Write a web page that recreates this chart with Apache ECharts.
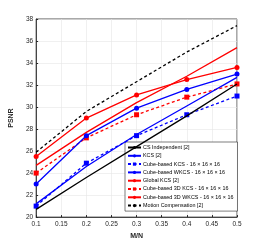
<!DOCTYPE html>
<html><head><meta charset="utf-8">
<script src="https://cdn.jsdelivr.net/npm/echarts@6/dist/echarts.min.js"></script>
<style>html,body{margin:0;padding:0;background:#fff}#c{width:262px;height:245px}</style>
</head><body><div id="c"></div>
<script>
const xs = [0.1, 0.2, 0.3, 0.4, 0.5];
const csIndependent = [20.7, 23.6, 26.4, 29.2, 32.1];
const kcs = [21.2, 24.6, 27.5, 30.1, 32.7];
const cubeKcs = [21.0, 24.9, 27.4, 29.3, 31.0];
const cubeWkcs = [23.0, 27.4, 29.9, 31.6, 33.0];
const globalKcs = [24.7, 27.7, 30.4, 32.8, 35.4];
const cube3dKcs = [24.0, 27.2, 29.3, 30.9, 32.1];
const cube3dWkcs = [25.5, 29.0, 31.1, 32.5, 33.6];
const motionComp = [25.9, 29.6, 32.3, 35.0, 37.4];
const seriesNames = [
  'CS Independent [2]', 'KCS [2]', 'Cube-based KCS - 16 \u00d7 16 \u00d7 16',
  'Cube-based WKCS - 16 \u00d7 16 \u00d7 16', 'Global KCS [2]',
  'Cube-based 3D KCS - 16 \u00d7 16 \u00d7 16', 'Cube-based 3D WKCS - 16 \u00d7 16 \u00d7 16',
  'Motion Compensation [2]'
];
const seriesData = [csIndependent, kcs, cubeKcs, cubeWkcs, globalKcs, cube3dKcs, cube3dWkcs, motionComp];
const styles = [
  {c:'#000000', t:'solid', m:'none'},
  {c:'#0000ff', t:'solid', m:'none'},
  {c:'#0000ff', t:'dashed', m:'rect'},
  {c:'#0000ff', t:'solid', m:'circle'},
  {c:'#ff0000', t:'solid', m:'none'},
  {c:'#ff0000', t:'dashed', m:'rect'},
  {c:'#ff0000', t:'solid', m:'circle'},
  {c:'#000000', t:'dashed', m:'none'}
];
const chart = echarts.init(document.getElementById('c'), null, {renderer:'canvas'});
const series = seriesNames.map((n,i)=>({
  name:n, type:'line',
  data: xs.map((x,j)=>[x, seriesData[i][j]]),
  symbol: styles[i].m, symbolSize: 5, showSymbol: styles[i].m !== 'none',
  lineStyle:{color:styles[i].c, width:1.3, type: styles[i].t==='dashed' ? [3,2.5] : 'solid'},
  itemStyle:{color:styles[i].c},
  z: 10 - i,
  animation:false
}));
const fmt = v => String(parseFloat(v.toFixed(2)));
chart.setOption({
  animation:false,
  grid:{left:34, right:25, top:19, bottom:27, show:true, borderColor:'#262626', borderWidth:0.8},
  xAxis:{type:'value', min:0.1, max:0.5, interval:0.05,
    name:'M/N', nameLocation:'middle', nameGap:14,
    nameTextStyle:{fontSize:7, fontWeight:'bold', color:'#262626', fontFamily:'Liberation Sans'},
    axisLine:{show:true, lineStyle:{color:'#262626', width:0.8}},
    axisTick:{show:true, inside:true, length:2, lineStyle:{color:'#262626'}},
    axisLabel:{fontSize:6.5, color:'#262626', margin:4, formatter:fmt, fontFamily:'Liberation Sans'},
    splitLine:{show:true, lineStyle:{color:'#e6e6e6', width:0.6}}},
  yAxis:{type:'value', min:20, max:38, interval:2,
    name:'PSNR', nameLocation:'middle', nameGap:16,
    nameTextStyle:{fontSize:7, fontWeight:'bold', color:'#262626', fontFamily:'Liberation Sans'},
    axisLine:{show:true, lineStyle:{color:'#262626', width:0.8}},
    axisTick:{show:true, inside:true, length:2, lineStyle:{color:'#262626'}},
    axisLabel:{fontSize:6.5, color:'#262626', margin:3, fontFamily:'Liberation Sans'},
    splitLine:{show:true, lineStyle:{color:'#e6e6e6', width:0.6}}},
  legend:{orient:'vertical', left:125, top:142, itemWidth:13, itemHeight:4, itemGap:3.3,
    padding:[3,4,3,2], backgroundColor:'#ffffff', borderColor:'#262626', borderWidth:0.6,
    textStyle:{fontSize:5.4, color:'#000', fontFamily:'Liberation Sans', padding:[0,0,0,-3]},
    data: seriesNames},
  series: series
});
</script></body></html>
